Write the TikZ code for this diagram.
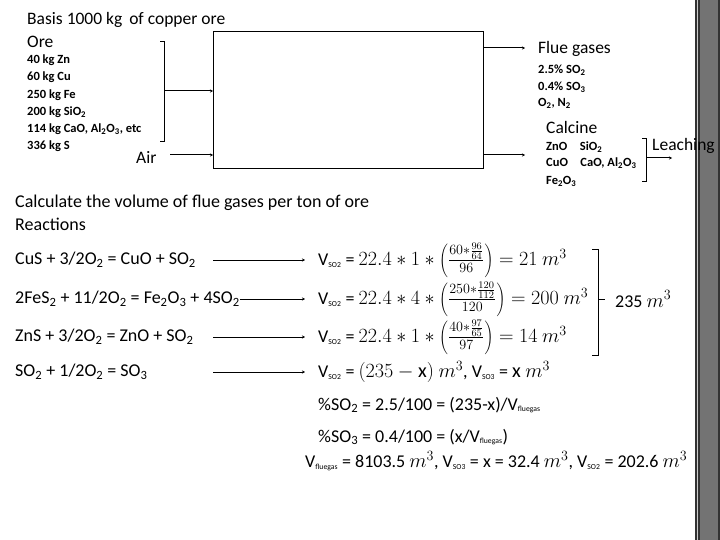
\RequirePackage{fix-cm}
\documentclass[tikz,border=0pt]{standalone}
\usepackage{fontspec}
\usepackage{graphicx}
\setmainfont{Carlito}
\usetikzlibrary{arrows.meta}
\newcommand{\Mth}[1]{\scalebox{1.12}{\(#1\)}}
\begin{document}
\begin{tikzpicture}[x=1pt,y=-1pt,
  lbl/.style={anchor=west,inner sep=0pt,font=\fontsize{17.5}{20}\selectfont},
  sml/.style={anchor=west,inner sep=0pt,font=\fontsize{12.5}{14}\selectfont\bfseries},
  big/.style={anchor=west,inner sep=0pt,font=\fontsize{18}{21}\selectfont},
  arr/.style={line width=1pt,-{Stealth[length=3pt,width=3pt]}},
  brk/.style={line width=0.8pt}]
\useasboundingbox (0,0) rectangle (720,540);
\fill[black!80] (695,0) rectangle (720,540);
\fill[black!55] (700,0) rectangle (718,540);
\draw[white!80!black,line width=0.6pt] (697,0) -- (697,540);
\node[draw,line width=1.2pt,minimum width=270pt,minimum height=137pt,anchor=north west,inner sep=0pt] (box) at (213,31) {};
\node[lbl] (basis) at (27,20) {Basis 1000 kg\, of copper ore};
\node[lbl] (ore) at (27,42) {Ore};
\node[sml] (o1) at (27,60) {40 kg Zn};
\node[sml] (o2) at (27,77) {60 kg Cu};
\node[sml] (o3) at (27,95) {250 kg Fe};
\node[sml] (o4) at (27,112) {200 kg SiO\textsubscript{2}};
\node[sml] (o5) at (27,129) {114 kg CaO, Al\textsubscript{2}O\textsubscript{3}, etc};
\node[sml] (o6) at (27,146) {336 kg S};
\node[lbl] (air) at (136,157) {Air};
\coordinate (bt) at (164,41); \coordinate (bb) at (164,141); \coordinate (bm) at (164,91);
\draw[brk] (160,41) -- (bt) -- (bb) -- (160,141);
\draw[arr] (bm) -- (bm -| box.west);
\coordinate (airend) at (170,155);
\draw[arr] (airend) -- (airend -| box.west);
\coordinate (flue) at (525,48); \coordinate (calc) at (525,155);
\draw[arr] (flue -| box.east) -- (flue);
\draw[arr] (calc -| box.east) -- (calc);
\node[lbl] (fg) at (538,49) {Flue gases};
\node[sml] (f1) at (538,70) {2.5\% SO\textsubscript{2}};
\node[sml] (f2) at (538,87) {0.4\% SO\textsubscript{3}};
\node[sml] (f3) at (538,103) {O\textsubscript{2}, N\textsubscript{2}};
\node[lbl] (cal) at (546,127) {Calcine};
\node[sml] (c1) at (546,147) {ZnO\quad SiO\textsubscript{2}};
\node[sml] (c2) at (546,163) {CuO\quad CaO, Al\textsubscript{2}O\textsubscript{3}};
\node[sml] (c3) at (546,181) {Fe\textsubscript{2}O\textsubscript{3}};
\draw[brk] (642,138) -- (646,138) -- (646,181) -- (642,181);
\coordinate (lm) at (646,158); \coordinate (le) at (672,158);
\draw[arr] (lm) -- (le);
\node[lbl] (leach) at (652,146) {Leaching};
\node[big] (q) at (15,203) {Calculate the volume of flue gases per ton of ore};
\node[big] (re) at (15,224) {Reactions};
\node[big] (r1) at (15,260) {CuS + 3/2O\textsubscript{2} = CuO + SO\textsubscript{2}};
\node[big] (r2) at (15,299) {2FeS\textsubscript{2} + 11/2O\textsubscript{2} = Fe\textsubscript{2}O\textsubscript{3} + 4SO\textsubscript{2}};
\node[big] (r3) at (15,337) {ZnS + 3/2O\textsubscript{2} = ZnO + SO\textsubscript{2}};
\node[big] (r4) at (15,372) {SO\textsubscript{2} + 1/2O\textsubscript{2} = SO\textsubscript{3}};
\newcommand{\Vs}[1]{V{\fontsize{11}{12}\selectfont\textsubscript{#1}}}
\node[big] (e1) at (318,260) {\Vs{SO2} = \Mth{22.4*1*\left(\frac{60*\frac{96}{64}}{96}\right)=21\ m^3}};
\node[big] (e2) at (318,299) {\Vs{SO2} = \Mth{22.4*4*\left(\frac{250*\frac{120}{112}}{120}\right)=200\ m^3}};
\node[big] (e3) at (318,337) {\Vs{SO2} = \Mth{22.4*1*\left(\frac{40*\frac{97}{65}}{97}\right)=14\ m^3}};
\node[big] (e4) at (318,372) {\Vs{SO2} = \Mth{(235-\mathrm{x})\ m^3}, \Vs{SO3} = \Mth{\mathrm{x}\ m^3}};
\draw[arr] (213,0 |- e1.west) -- (305,0 |- e1.west);
\draw[arr] (r2.east) -- (305,0 |- e2.west);
\draw[arr] (213,0 |- e3.west) -- (305,0 |- e3.west);
\draw[arr] (213,0 |- e4.west) -- (305,0 |- e4.west);
\draw[brk] (592,249) -- (598,249) -- (598,355) -- (592,355);
\draw[brk] (598,299) -- (605,299);
\node[big] (tot) at (615,299) {235 \Mth{m^3}};
\node[big] (p1) at (318,405) {\%SO\textsubscript{2} = 2.5/100 = (235-x)/\Vs{fluegas}};
\node[big] (p2) at (318,437) {\%SO\textsubscript{3} = 0.4/100 = (x/\Vs{fluegas})};
\node[big] (p3) at (305,461) {\Vs{fluegas} = 8103.5 \Mth{m^3}, \Vs{SO3} = x = 32.4 \Mth{m^3}, \Vs{SO2} = 202.6 \Mth{m^3}};
\end{tikzpicture}
\end{document}
